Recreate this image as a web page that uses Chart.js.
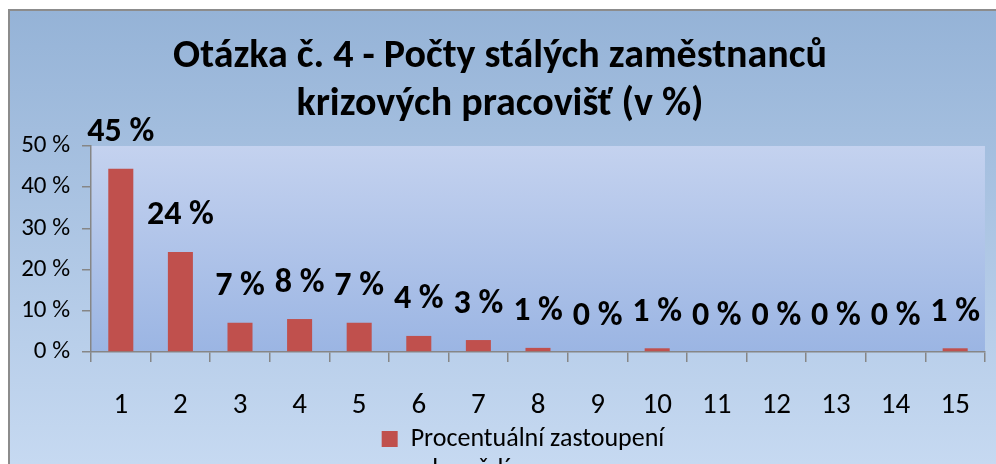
<!DOCTYPE html>
<html>
<head>
<meta charset="utf-8">
<script src="https://cdn.jsdelivr.net/npm/chart.js@4.4.1/dist/chart.umd.min.js"></script>
<style>
  html, body { margin: 0; padding: 0; background: #fff; }
  #wrap { width: 996px; height: 464px; position: relative; }
</style>
</head>
<body>
<div id="wrap"><canvas id="chart" width="996" height="464"></canvas></div>
<script>
  const categories = ['1', '2', '3', '4', '5', '6', '7', '8', '9', '10', '11', '12', '13', '14', '15'];
  const shares = [44.5, 24.3, 7.1, 8.0, 7.1, 3.9, 2.9, 1.0, 0, 0.9, 0, 0, 0, 0, 0.9];
  const yTicks = [0, 10, 20, 30, 40, 50];
  const seriesName = 'Procentuální zastoupení';
  const seriesNameLine2 = 'odpovědí';
  const titleLines = ['Otázka č. 4 - Počty stálých zaměstnanců', 'krizových pracovišť (v %)'];

  const FONT = 'Carlito, Lato, "Open Sans", sans-serif';
  const AXIS_GRAY = '#868686';
  const LEGEND_CENTER = 523;

  // outer frame + plot area gradients
  const backgrounds = {
    id: 'backgrounds',
    afterLayout(chart) {
      // legend in the original sits right of the page centre
      const lg = chart.legend;
      if (!lg) return;
      const shift = LEGEND_CENTER - (lg.left + lg.right) / 2;
      lg.left += shift;
      lg.right += shift;
    },
    beforeDraw(chart) {
      const { ctx, chartArea: a } = chart;
      ctx.save();
      ctx.fillStyle = '#fff';
      ctx.fillRect(0, 0, chart.width, chart.height);
      const g = ctx.createLinearGradient(0, 10, 0, chart.height);
      g.addColorStop(0, '#95b3d7');
      g.addColorStop(1, '#c6d9f1');
      ctx.fillStyle = g;
      ctx.fillRect(9, 11, chart.width - 9, chart.height - 11);
      ctx.strokeStyle = '#8c8c8c';
      ctx.lineWidth = 2;
      ctx.beginPath();
      ctx.moveTo(9, chart.height);
      ctx.lineTo(9, 10);
      ctx.lineTo(chart.width, 10);
      ctx.stroke();
      const pg = ctx.createLinearGradient(0, a.top, 0, a.bottom);
      pg.addColorStop(0, '#c4d2ef');
      pg.addColorStop(1, '#9bb5e3');
      ctx.fillStyle = pg;
      ctx.fillRect(a.left, a.top, a.right - a.left, a.bottom - a.top);
      ctx.restore();
    }
  };

  // value labels over the bars, second legend line
  const valueLabels = {
    id: 'valueLabels',
    afterDatasetsDraw(chart) {
      const { ctx } = chart;
      const meta = chart.getDatasetMeta(0);
      ctx.save();
      ctx.font = 'bold 34px ' + FONT;
      ctx.fillStyle = '#000';
      ctx.textAlign = 'center';
      ctx.textBaseline = 'middle';
      meta.data.forEach((bar, i) => {
        ctx.fillText(Math.round(shares[i]) + ' %', bar.x, bar.y - 36);
      });
      ctx.restore();
    },
    afterDraw(chart) {
      const lg = chart.legend;
      if (!lg || !lg.legendHitBoxes.length) return;
      const hb = lg.legendHitBoxes[0];
      const { ctx } = chart;
      ctx.save();
      ctx.font = '26px ' + FONT;
      ctx.fillStyle = '#000';
      ctx.textBaseline = 'middle';
      ctx.fillText(seriesNameLine2, hb.left + 16 + 13, hb.top + hb.height / 2 + 31);
      ctx.restore();
    }
  };

  new Chart(document.getElementById('chart'), {
    type: 'bar',
    data: {
      labels: categories,
      datasets: [{
        label: seriesName,
        data: shares,
        backgroundColor: '#c0504d',
        borderWidth: 0,
        barPercentage: 0.42,
        categoryPercentage: 1
      }]
    },
    options: {
      responsive: false,
      animation: false,
      devicePixelRatio: 1,
      layout: { padding: { left: 8, right: 4, top: 33, bottom: 2 } },
      plugins: {
        title: {
          display: true,
          text: titleLines,
          color: '#000',
          font: { family: FONT, size: 40, weight: 'bold', lineHeight: 1.2 },
          padding: { top: 0, bottom: 17 }
        },
        legend: {
          position: 'bottom',
          labels: {
            color: '#000',
            font: { family: FONT, size: 26 },
            boxWidth: 16,
            boxHeight: 16,
            padding: 2
          }
        },
        tooltip: { enabled: false }
      },
      scales: {
        y: {
          min: 0,
          max: 50,
          afterFit(scale) { scale.width = 83; },
          afterBuildTicks(scale) { scale.ticks = yTicks.map(v => ({ value: v })); },
          ticks: {
            color: '#000',
            font: { family: FONT, size: 25 },
            padding: 12,
            callback: v => v + ' %'
          },
          grid: { drawOnChartArea: false, color: AXIS_GRAY, tickLength: 9, lineWidth: 1.5 },
          border: { color: AXIS_GRAY, width: 1.5 }
        },
        x: {
          afterFit(scale) { scale.height = 72; },
          ticks: {
            color: '#000',
            font: { family: FONT, size: 29 },
            padding: 26,
            maxRotation: 0
          },
          grid: { drawOnChartArea: false, offset: true, color: AXIS_GRAY, tickLength: 10, lineWidth: 1.5 },
          border: { color: AXIS_GRAY, width: 1.5 }
        }
      }
    },
    plugins: [backgrounds, valueLabels]
  });
</script>
</body>
</html>
